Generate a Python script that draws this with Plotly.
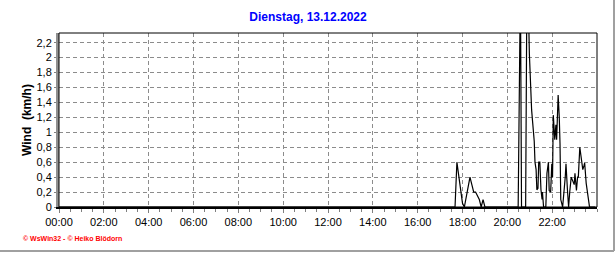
import plotly.graph_objects as go

# ---- data ----
times = ["00:00", "17:40", "17:45", "17:50", "17:55", "18:00", "18:05", "18:10", "18:15",
         "18:20", "18:25", "18:30", "18:35", "18:40", "18:45", "18:50", "18:55", "19:00",
         "19:05", "20:29", "20:35", "20:38", "20:49", "20:53", "20:59", "21:01", "21:03",
         "21:05", "21:08", "21:10", "21:12", "21:14", "21:17", "21:19", "21:22", "21:24",
         "21:27", "21:30", "21:33", "21:34", "21:37", "21:43", "21:46", "21:50", "21:52",
         "21:56", "21:59", "22:01", "22:03", "22:07", "22:10", "22:12", "22:16", "22:19",
         "22:21", "22:23", "22:26", "22:28", "22:35", "22:37", "22:41", "22:43", "22:44",
         "22:47", "22:51", "22:55", "22:59", "23:01", "23:05", "23:08", "23:10", "23:14",
         "23:19", "23:22", "23:25", "23:27", "23:31", "23:34", "23:37", "23:40", "23:55"]
wind = [0, 0, 0.6, 0.4, 0.2, 0.05, 0, 0.15, 0.3,
        0.4, 0.3, 0.2, 0.2, 0.15, 0.1, 0, 0.1, 0,
        0, 0, 3.0, 0, 0, 3.5, 2.05, 1.73, 1.48,
        1.3, 1.12, 1.0, 0.88, 0.6, 0.5, 0.23, 0.25, 0.6,
        0.6, 0.23, 0.1, 0.2, 0, 0, 0.45, 0.6, 0.22,
        0.2, 0.58, 0.4, 1.23, 0.9, 1.1, 0.9, 1.5, 1.2,
        0.85, 0.1, 0, 0, 0.4, 0.58, 0.22, 0, 0,
        0.2, 0.4, 0.35, 0.3, 0.45, 0.22, 0.4, 0.4, 0.8,
        0.6, 0.5, 0.55, 0.59, 0.32, 0.19, 0.1, 0, 0]

x_tick_labels = ["00:00", "02:00", "04:00", "06:00", "08:00", "10:00",
                 "12:00", "14:00", "16:00", "18:00", "20:00", "22:00"]
title_text = "Dienstag, 13.12.2022"
y_title = "Wind  (km/h)"
footer = "© WsWin32 - © Heiko Blödorn"


def to_min(s):
    h, m = s.split(":")
    return int(h) * 60 + int(m)


xs = [to_min(t) for t in times]
tickvals = [to_min(t) for t in x_tick_labels]

# ---- geometry ----
W, H = 616, 253
L, R, T, B = 59, 19, 33, 46
pw, ph = W - L - R, H - T - B

fig = go.Figure()
fig.add_trace(go.Scatter(x=xs, y=wind, mode="lines",
                         line=dict(color="black", width=1.2), hoverinfo="skip"))

font = "Liberation Sans, Arial, sans-serif"
fig.update_layout(
    width=W, height=H, autosize=False,
    margin=dict(l=L, r=R, t=T, b=B, pad=0),
    paper_bgcolor="white", plot_bgcolor="white",
    separators=",.",
    showlegend=False,
    font=dict(family=font, size=11, color="black"),
    title=dict(text="<b>" + title_text + "</b>", x=0.5, xref="container",
               xanchor="center", y=1 - 17 / H, yanchor="middle", yref="container",
               font=dict(family=font, size=12, color="#0000FF")),
    xaxis=dict(range=[0, 1440], tickvals=tickvals, ticktext=x_tick_labels,
               showgrid=True, gridcolor="#8c8c8c", griddash="4px,3px", gridwidth=1,
               zeroline=False, showline=True, linecolor="black", linewidth=2,
               ticks="outside", ticklen=4, tickcolor="#808080", tickwidth=1,
               minor=dict(dtick=30, tick0=0, ticks="outside", ticklen=3,
                          tickcolor="#808080", showgrid=False),
               tickfont=dict(family=font, size=11, color="black")),
    yaxis=dict(range=[0, 2.33], dtick=0.2, tick0=0,
               showgrid=True, gridcolor="#8c8c8c", griddash="4px,3px", gridwidth=1,
               zeroline=False, showline=True, linecolor="#909090", linewidth=3,
               ticks="outside", ticklen=2, tickcolor="#808080",
               tickfont=dict(family=font, size=11, color="black")),
)

# frame (top/right black)
fig.add_shape(type="rect", xref="paper", yref="paper", x0=0, x1=1, y0=0, y1=1,
              line=dict(color="black", width=1), layer="above")
# y axis title
fig.add_annotation(text="<b>" + y_title + "</b>", textangle=-90, xref="paper", yref="paper",
                   x=(27 - L) / pw, y=0.5, xanchor="center", yanchor="middle",
                   showarrow=False, font=dict(family=font, size=12, color="black"))
# footer
fig.add_annotation(text="<b>" + footer + "</b>", xref="paper", yref="paper",
                   x=(21 - L) / pw, y=(T + ph - 238) / ph, xanchor="left", yanchor="middle",
                   showarrow=False, font=dict(family=font, size=7, color="#FF0000"))
# window border (gray) right and bottom
bx = (614 - L) / pw
by = (T + ph - 251) / ph
fig.add_shape(type="line", xref="paper", yref="paper", x0=bx, x1=bx, y0=by, y1=(T + ph) / ph,
              line=dict(color="#a0a0a0", width=2))
fig.add_shape(type="line", xref="paper", yref="paper", x0=-L / pw, x1=bx, y0=by, y1=by,
              line=dict(color="#a0a0a0", width=2))

fig.write_html("out.html")
